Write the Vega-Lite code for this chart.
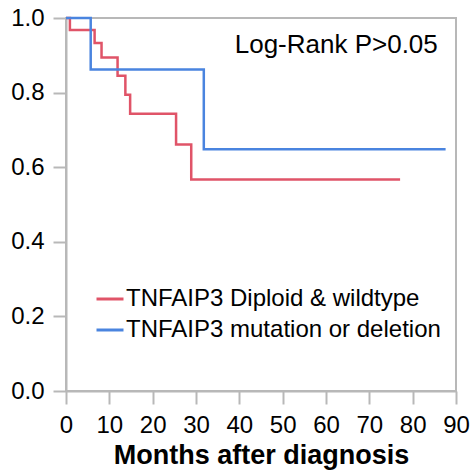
{
  "$schema": "https://vega.github.io/schema/vega-lite/v6.json",
  "width": 390,
  "height": 373,
  "autosize": {"type": "none"},
  "padding": {"left": 66, "top": 18, "right": 18, "bottom": 82},
  "background": "white",
  "config": {
    "font": "Liberation Sans",
    "view": {"stroke": "#b8b8b8", "strokeWidth": 2},
    "axis": {
      "domainColor": "#b8b8b8", "domainWidth": 2,
      "tickColor": "#b8b8b8", "tickWidth": 2,
      "labelColor": "black", "labelFont": "Liberation Sans",
      "grid": false
    }
  },
  "data": {"values": [
    {"group": "TNFAIP3 Diploid & wildtype", "month": 0, "surv": 1},
    {"group": "TNFAIP3 Diploid & wildtype", "month": 0.9, "surv": 0.968},
    {"group": "TNFAIP3 Diploid & wildtype", "month": 6.6, "surv": 0.933},
    {"group": "TNFAIP3 Diploid & wildtype", "month": 8.2, "surv": 0.894},
    {"group": "TNFAIP3 Diploid & wildtype", "month": 11.9, "surv": 0.845},
    {"group": "TNFAIP3 Diploid & wildtype", "month": 13.7, "surv": 0.794},
    {"group": "TNFAIP3 Diploid & wildtype", "month": 14.8, "surv": 0.743},
    {"group": "TNFAIP3 Diploid & wildtype", "month": 25.4, "surv": 0.661},
    {"group": "TNFAIP3 Diploid & wildtype", "month": 28.9, "surv": 0.567},
    {"group": "TNFAIP3 Diploid & wildtype", "month": 77.1, "surv": 0.567},
    {"group": "TNFAIP3 mutation or deletion", "month": 0, "surv": 1},
    {"group": "TNFAIP3 mutation or deletion", "month": 5.7, "surv": 0.862},
    {"group": "TNFAIP3 mutation or deletion", "month": 31.8, "surv": 0.648},
    {"group": "TNFAIP3 mutation or deletion", "month": 87.6, "surv": 0.648}
  ]},
  "layer": [
    {
      "mark": {"type": "line", "interpolate": "step-after", "strokeWidth": 2.5},
      "encoding": {
        "x": {"field": "month", "type": "quantitative",
          "scale": {"domain": [0, 90], "nice": false, "zero": false},
          "axis": {"values": [0,10,20,30,40,50,60,70,80,90], "tickSize": 13, "labelFontSize": 24, "labelPadding": 9,
            "labelFlush": false, "labelOverlap": false,
            "title": "Months after diagnosis", "titleFontSize": 27, "titleFontWeight": "bold", "titleColor": "black", "titlePadding": 5}},
        "y": {"field": "surv", "type": "quantitative",
          "scale": {"domain": [0, 1], "nice": false},
          "axis": {"values": [0,0.1,0.2,0.3,0.4,0.5,0.6,0.7,0.8,0.9,1.0],
            "labelExpr": "round(datum.value*10) % 2 == 0 ? format(datum.value, '.1f') : ''",
            "tickSize": {"condition": {"test": "round(datum.value*10) % 2 == 0", "value": 13}, "value": 8},
            "labelFontSize": 24, "labelPadding": 9, "labelFlush": false, "labelOverlap": false, "title": null}},
        "color": {"field": "group", "type": "nominal",
          "scale": {"domain": ["TNFAIP3 Diploid & wildtype", "TNFAIP3 mutation or deletion"], "range": ["#E05468", "#4A84DF"]},
          "legend": {"title": null, "orient": "none", "legendX": 29, "legendY": 266,
            "symbolType": "stroke", "symbolSize": 729, "symbolStrokeWidth": 3,
            "labelFontSize": 24, "labelFont": "Liberation Sans", "labelColor": "black", "labelOffset": 1, "rowPadding": 4, "labelLimit": 400}}
      }
    },
    {
      "data": {"values": [{"note": "Log-Rank P>0.05"}]},
      "mark": {"type": "text", "align": "right", "baseline": "alphabetic", "fontSize": 26, "font": "Liberation Sans", "color": "black"},
      "encoding": {
        "x": {"datum": 85.8, "type": "quantitative"},
        "y": {"datum": 0.905, "type": "quantitative"},
        "text": {"field": "note", "type": "nominal"}
      }
    }
  ]
}
